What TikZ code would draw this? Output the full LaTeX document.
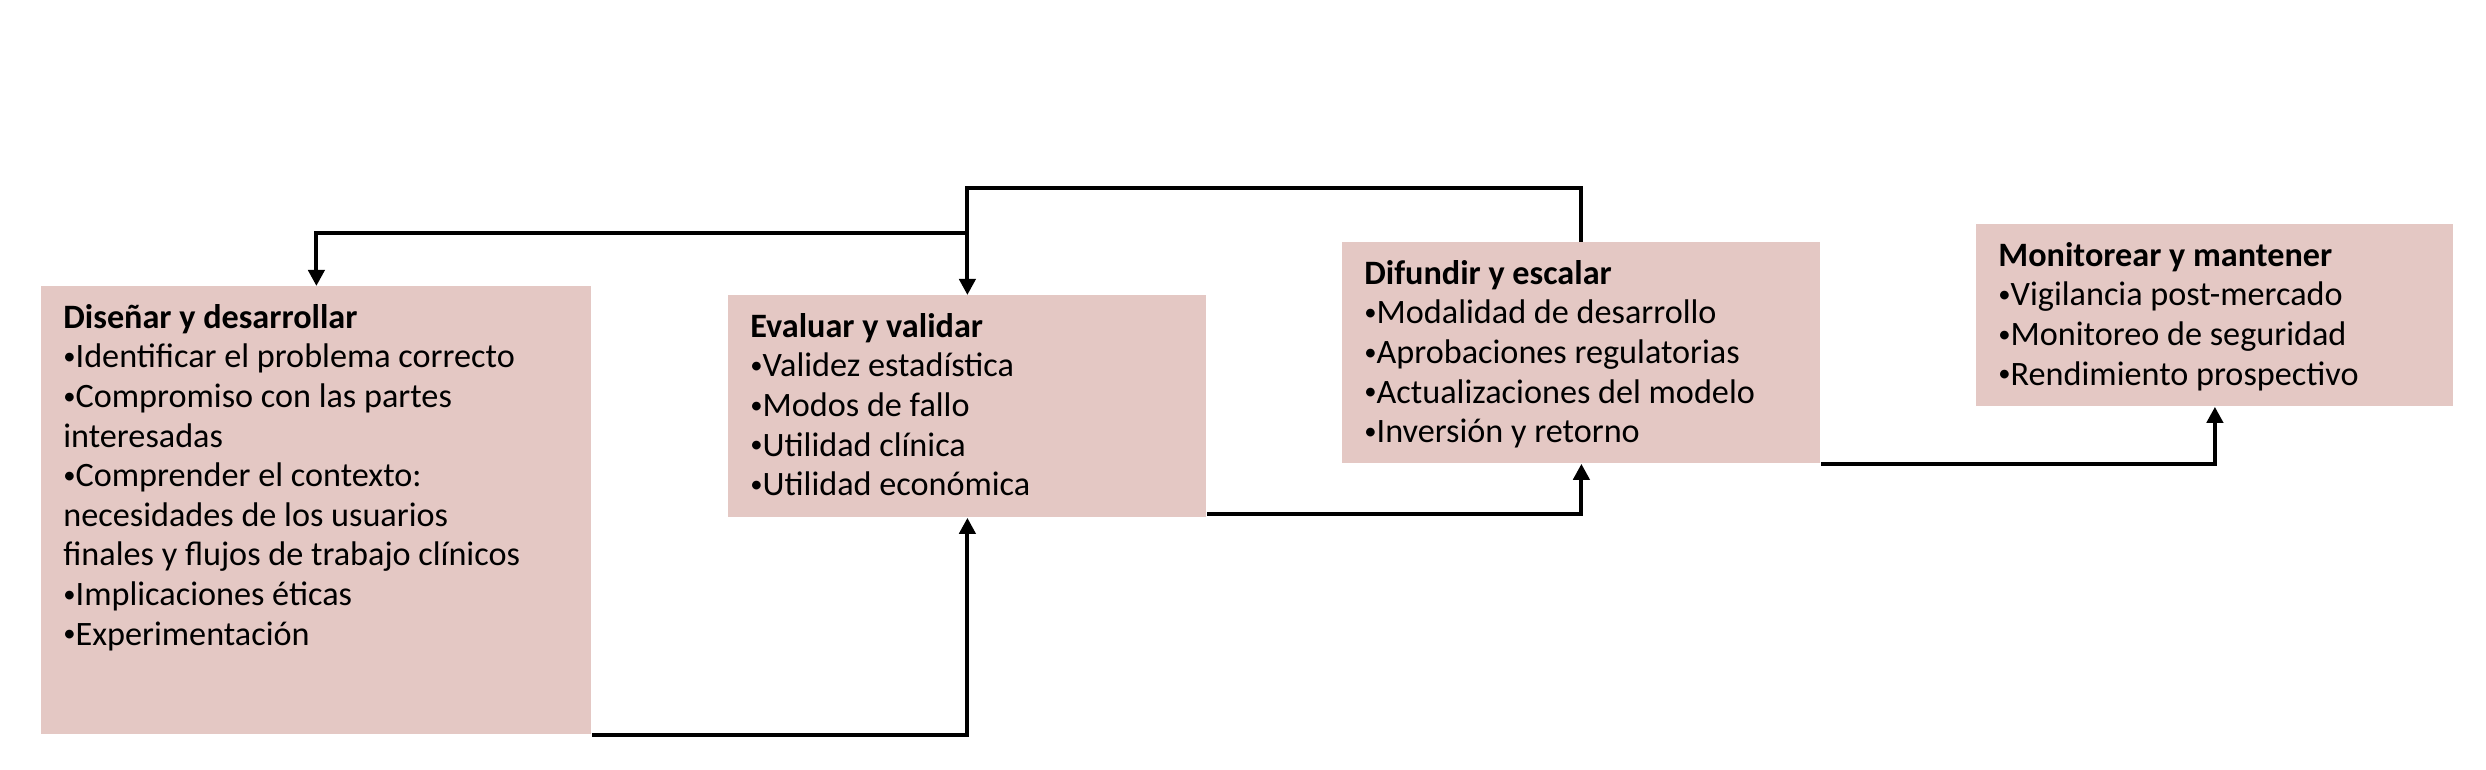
\documentclass[tikz,border=0pt]{standalone}
\usepackage{fontspec}
\usepackage{graphicx}
\setmainfont{Carlito}
\usetikzlibrary{arrows.meta}
\definecolor{etapafondo}{RGB}{228,200,196}
\tikzset{
  etapa/.style={fill=etapafondo, anchor=north west, inner xsep=11pt, inner ysep=9pt,
    font=\fontsize{17.1}{19.8}\selectfont},
  flujo/.style={line width=2pt, -{Triangle[length=8pt,width=8pt]}}
}
\newcommand{\contenido}[3]{\begin{minipage}[t][#1][t]{#2}#3\end{minipage}}
\newcommand{\vineta}{\raisebox{0.1em}{\scalebox{0.72}{•}}}
\begin{document}
\begin{tikzpicture}
    \useasboundingbox (0pt,0pt) rectangle (1243pt,-385pt);
    \node[etapa] (disenar) at (20.5pt,-143pt) {\contenido{206pt}{253pt}{\textbf{Diseñar y desarrollar}\\
      \vineta Identificar el problema correcto\\
      \vineta Compromiso con las partes\\
      interesadas\\
      \vineta Comprender el contexto:\\
      necesidades de los usuarios\\
      finales y flujos de trabajo clínicos\\
      \vineta Implicaciones éticas\\
      \vineta Experimentación}};
    \node[etapa] (evaluar) at (364pt,-147.5pt) {\contenido{93pt}{217pt}{\textbf{Evaluar y validar}\\
      \vineta Validez estadística\\
      \vineta Modos de fallo\\
      \vineta Utilidad clínica\\
      \vineta Utilidad económica}};
    \node[etapa] (difundir) at (671pt,-121pt) {\contenido{92.5pt}{217pt}{\textbf{Difundir y escalar}\\
      \vineta Modalidad de desarrollo\\
      \vineta Aprobaciones regulatorias\\
      \vineta Actualizaciones del modelo\\
      \vineta Inversión y retorno}};
    \node[etapa] (monitorear) at (988pt,-112pt) {\contenido{73pt}{216.5pt}{\textbf{Monitorear y mantener}\\
      \vineta Vigilancia post-mercado\\
      \vineta Monitoreo de seguridad\\
      \vineta Rendimiento prospectivo}};
    \draw[flujo] (disenar.south east) -| (evaluar.south);
    \draw[flujo] ([yshift=2pt]evaluar.south east) -| (difundir.south);
    \draw[flujo] (difundir.south east) -| (monitorear.south);
    \path (difundir.north) ++(0,27pt) coordinate (retorno);
    \draw[flujo] (difundir.north) -- (retorno) -| (evaluar.north);
    \coordinate (rama) at (evaluar.north |- 0,-116.5pt);
    \draw[flujo] (rama) -| (disenar.north);
\end{tikzpicture}
\end{document}
